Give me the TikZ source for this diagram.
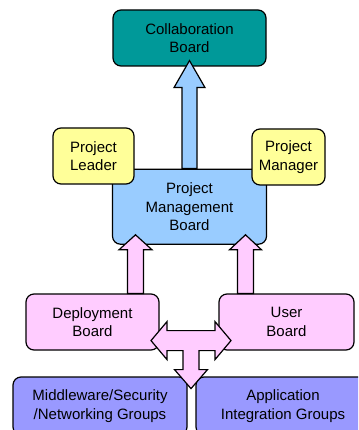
\documentclass[tikz,border=0pt]{standalone}
\usepackage{fontspec}
\setmainfont{Liberation Sans}
\usetikzlibrary{positioning,calc}

\definecolor{teal}{HTML}{009999}
\definecolor{pyellow}{HTML}{FFFF99}
\definecolor{pblue}{HTML}{99CCFF}
\definecolor{ppink}{HTML}{FFCCFF}
\definecolor{ppurple}{HTML}{9999FF}

% fill, base, tip, half shaft, half head, head length
\newcommand{\fatarrow}[6]{%
\draw[fill=#1] let \p1=#2, \p2=#3 in
 (\x1-#4,\y1) -- (\x1-#4,\y2-#6) -- (\x1-#5,\y2-#6) -- (\x1,\y2)
 -- (\x1+#5,\y2-#6) -- (\x1+#4,\y2-#6) -- (\x1+#4,\y1) -- cycle;}

\begin{document}
\begin{tikzpicture}[x=1pt,y=-1pt,line width=1.2pt,
  board/.style={draw,rounded corners=8pt,align=center,inner sep=0pt,
    font=\fontsize{15}{18.5}\selectfont}]
\clip (0,0) rectangle (358,430);
\node[board,fill=teal,minimum width=153pt,minimum height=56pt](collab) at (189.5,38){Collaboration\\Board};
\node[board,fill=pblue,minimum width=154pt,minimum height=75pt, below=102pt of collab](pmb){Project\\Management\\Board};
\fatarrow{pblue}{(pmb.north)}{($(collab.south)+(0,-6)$)}{7.5pt}{15.5pt}{27pt}
\node[board,fill=pyellow,minimum width=81pt,minimum height=56pt](leader) at (93.5,156){Project\\Leader};
\node[board,fill=pyellow,minimum width=73pt,minimum height=56pt](manager) at (288.5,157){Project\\Manager};
\node[board,fill=ppink,minimum width=133pt,minimum height=56pt](db) at (92.5,322){Deployment\\Board};
\node[board,fill=ppink,minimum width=135pt,minimum height=56pt](ub) at (286.5,322){User\\Board};
\coordinate (dl) at ($(pmb.south)+(-54,0)$);
\coordinate (ur) at ($(pmb.south)+(56,0)$);
\fatarrow{ppink}{(dl |- db.north)}{($(dl)+(0,-10)$)}{8pt}{16.5pt}{15pt}
\fatarrow{ppink}{(ur |- ub.north)}{($(ur)+(0,-10)$)}{8pt}{16pt}{15pt}
\node[board,fill=ppurple,minimum width=174pt,minimum height=58pt](mw) at (100,406){Middleware/Security\\/Networking Groups};
\node[board,fill=ppurple,minimum width=174pt,minimum height=58pt](app) at (283,406){Application\\Integration Groups};
\coordinate (hub) at ($(db.south east)!0.5!(ub.south west)+(2,-10)$);
\draw[fill=ppink,shift={(hub)}] (-40,0) -- (-24,-19) -- (-24,-10) -- (24,-10) -- (24,-19) -- (40,0)
  -- (24,19) -- (24,10) -- (8,10) -- (8,29) -- (16.5,29) -- (0,48) -- (-16.5,29) -- (-8,29)
  -- (-8,10) -- (-24,10) -- (-24,19) -- cycle;
\end{tikzpicture}
\end{document}
